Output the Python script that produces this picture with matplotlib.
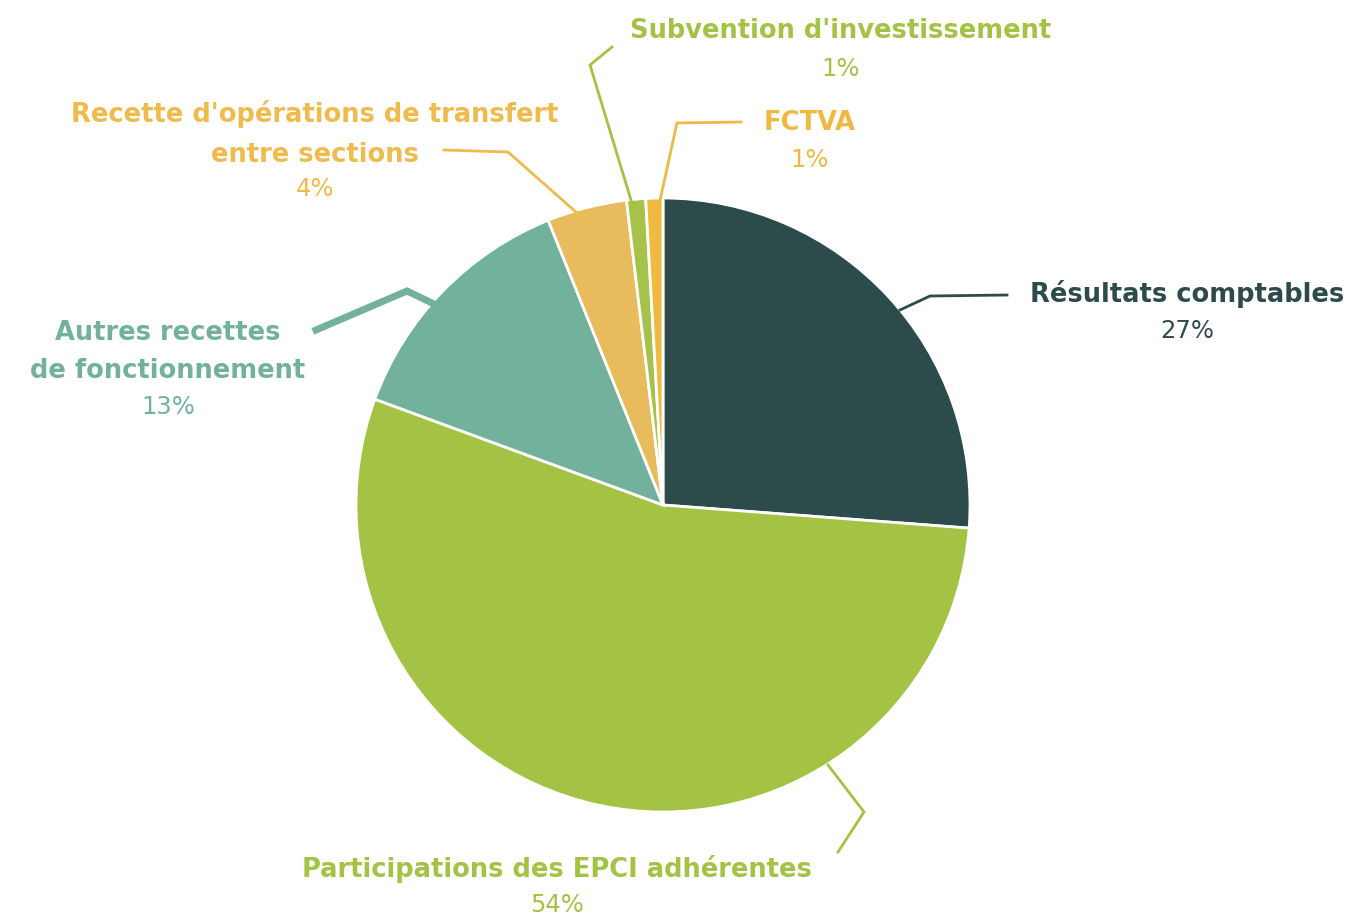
import matplotlib
matplotlib.use("Agg")
import matplotlib.pyplot as plt

# parts of the budget (in %), clockwise from 12 o'clock
labels = ["Résultats comptables", "Participations des EPCI adhérentes",
          "Autres recettes\nde fonctionnement",
          "Recette d'opérations de transfert\nentre sections",
          "Subvention d'investissement", "FCTVA"]
values = [26.2, 54.4, 13.3, 4.2, 1.0, 0.9]
pct_text = ["27%", "54%", "13%", "4%", "1%", "1%"]
colors = ["#2e4b4b", "#a4c244", "#72b19c", "#e8bb5c", "#a6c24a", "#f0b942"]
text_colors = ["#2e4b4b", "#a4c244", "#72b19c", "#efbb4c", "#a4c244", "#f0b942"]

W, H = 1355, 919
CX, CY, R = 663, 505, 307


def px(x, y):
    # pixel position -> data units (pie radius = 1)
    return (x - CX) / R, (CY - y) / R


# leader lines and label anchors, in pixels
leaders = [
    [(900, 310), (930, 296), (1007, 295)],
    [(828, 765), (864, 812), (838, 852)],
    [(432, 303), (407, 291), (316, 330)],
    [(585, 220), (508, 152), (444, 150)],
    [(634, 210), (590, 65), (612, 47)],
    [(659, 205), (677, 123), (741, 122)],
]
leader_w = [2, 2, 5, 2, 2, 2]
name_pos = [(1187, 294), (557, 869), (168, 352), (315, 134), (841, 31), (810, 123)]
pct_pos = [(1187, 331), (557, 905), (168, 407), (315, 189), (841, 69), (810, 160)]

fig = plt.figure(figsize=(W / 100, H / 100), dpi=100)
ax = fig.add_axes([0, 0, 1, 1])

ax.pie(values, colors=colors, startangle=90, counterclock=False, radius=1,
       wedgeprops=dict(edgecolor="white", linewidth=2))

for i in range(len(values)):
    pts = [px(*p) for p in leaders[i]]
    ax.plot([p[0] for p in pts], [p[1] for p in pts], color=text_colors[i],
            lw=leader_w[i], solid_joinstyle="miter", zorder=3)
    x, y = px(*name_pos[i])
    ax.text(x, y, labels[i], color=text_colors[i], fontsize=18.5, fontweight="bold",
            ha="center", va="center", linespacing=1.65)
    x, y = px(*pct_pos[i])
    ax.text(x, y, pct_text[i], color=text_colors[i], fontsize=17.5,
            ha="center", va="center")

ax.set_xlim(-CX / R, (W - CX) / R)
ax.set_ylim(-(H - CY) / R, CY / R)
ax.set_aspect("auto")
ax.axis("off")

fig.savefig("out.png", dpi=100, facecolor="white")
